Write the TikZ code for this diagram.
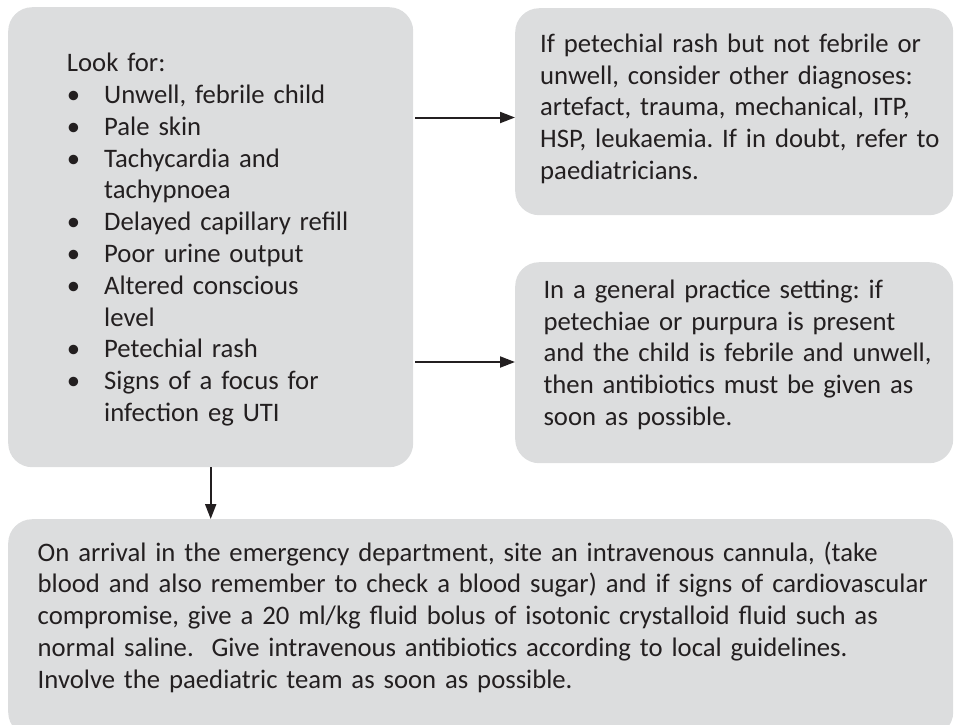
\documentclass[tikz,border=0pt]{standalone}
\usepackage{fontspec}
\setmainfont{Carlito}
\usetikzlibrary{arrows.meta}
\definecolor{boxgray}{RGB}{220,221,222}
\definecolor{ink}{RGB}{35,31,32}
\frenchspacing
\begin{document}
\begin{tikzpicture}[x=1pt,y=-1pt,
  box/.style={draw=none,fill=boxgray,rounded corners=24pt,inner sep=0pt,anchor=north west},
  txt/.style={anchor=base west,inner sep=0pt,align=left,text width=420pt,text=ink,font=\fontsize{26.7}{31.8}\selectfont\frenchspacing},
  arr/.style={draw=ink,line width=2pt,-{Triangle[length=15pt,width=11pt]}}]
\clip (0,0) rectangle (954,724);
\useasboundingbox (0,0) rectangle (954,724);
% boxes
\node[box,minimum width=405pt,minimum height=460pt] (look) at (8,7) {};
\node[box,minimum width=438pt,minimum height=207pt] (tr) at (515,8) {};
\node[box,minimum width=438pt,minimum height=201pt] (mr) at (515,262) {};
\node[box,minimum width=945pt,minimum height=217pt] (bot) at (8,519) {};
% texts
\node[txt] (looktxt) at (66.7,71.7) {Look for:\\
\makebox[37.3pt][l]{\textbullet}Unwell, febrile child\\
\makebox[37.3pt][l]{\textbullet}Pale skin\\
\makebox[37.3pt][l]{\textbullet}Tachycardia and\\
\hspace*{37.3pt}tachypnoea\\
\makebox[37.3pt][l]{\textbullet}Delayed capillary refill\\
\makebox[37.3pt][l]{\textbullet}Poor urine output\\
\makebox[37.3pt][l]{\textbullet}Altered conscious\\
\hspace*{37.3pt}level\\
\makebox[37.3pt][l]{\textbullet}Petechial rash\\
\makebox[37.3pt][l]{\textbullet}Signs of a focus for\\
\hspace*{37.3pt}infection eg UTI};
\node[txt] (trtxt) at (540,52.3) {If petechial rash but not febrile or\\
unwell, consider other diagnoses:\\
artefact, trauma, mechanical, ITP,\\
HSP, leukaemia. If in doubt, refer to\\
paediatricians.};
\node[txt] (mrtxt) at (543.3,298.3) {In a general practice setting: if\\
petechiae or purpura is present\\
and the child is febrile and unwell,\\
then antibiotics must be given as\\
soon as possible.};
\node[txt,text width=920pt] (bottxt) at (37.5,561) {On arrival in the emergency department, site an intravenous cannula, (take\\
blood and also remember to check a blood sugar) and if signs of cardiovascular\\
compromise, give a 20 ml/kg fluid bolus of isotonic crystalloid fluid such as\\
normal saline.\ \ Give intravenous antibiotics according to local guidelines.\\
Involve the paediatric team as soon as possible.};
% arrows
\coordinate (a1) at (0,117.5);
\coordinate (a2) at (0,362);
\coordinate (a3) at (210.7,0);
\draw[arr,shorten <=2pt] (look.east |- a1) -- (tr.west |- a1);
\draw[arr,shorten <=2pt] (look.east |- a2) -- (mr.west |- a2);
\draw[arr] (look.south -| a3) -- (bot.north -| a3);
\end{tikzpicture}
\end{document}
